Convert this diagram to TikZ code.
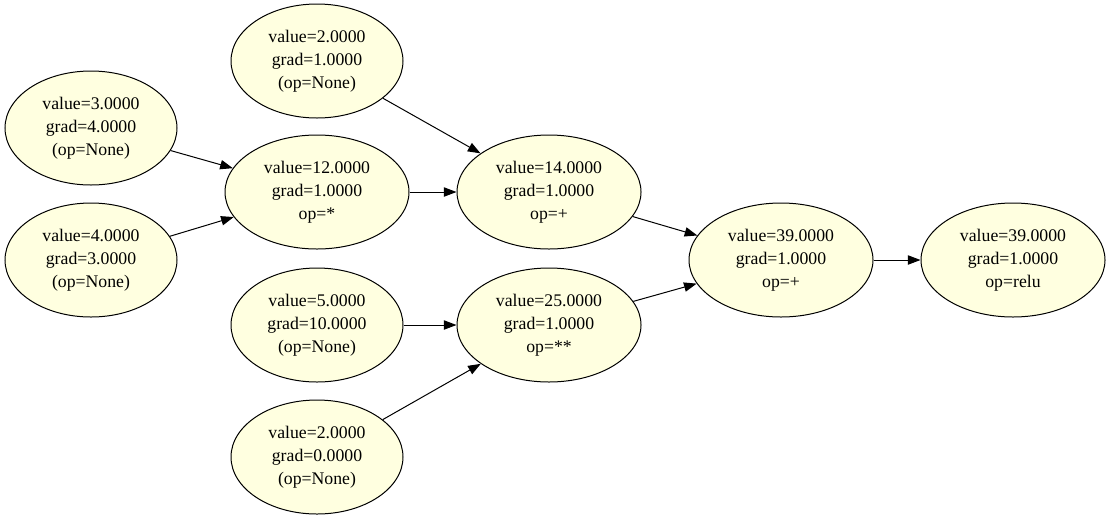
\documentclass[tikz,border=0pt]{standalone}
\usepackage{fontspec}
\setmainfont{Liberation Serif}
\usetikzlibrary{shapes.geometric,arrows.meta}
\definecolor{nodefill}{HTML}{FFFFE0}
\begin{document}
\begin{tikzpicture}[x=0.75pt,y=-0.75pt,
  val/.style={ellipse,draw=black,line width=0.75pt,fill=nodefill,inner sep=0pt,
    minimum height=85.5pt,align=center,
    font=\fontsize{13.3}{17.25}\selectfont},
  narrow/.style={val,minimum width=129pt},
  wide/.style={val,minimum width=138pt},
  edge/.style={line width=0.75pt,-{Triangle[length=9.5pt,width=7pt]}}]
\useasboundingbox (0,0) rectangle (1112,515);
\node[narrow] (a) at (317,61)  {value=2.0000\\grad=1.0000\\(op=None)};
\node[narrow] (b) at (91,128)  {value=3.0000\\grad=4.0000\\(op=None)};
\node[wide]   (c) at (317,192) {value=12.0000\\grad=1.0000\\op=*};
\node[narrow] (d) at (91,260)  {value=4.0000\\grad=3.0000\\(op=None)};
\node[wide]   (e) at (549,192) {value=14.0000\\grad=1.0000\\op=+};
\node[narrow] (f) at (317,325) {value=5.0000\\grad=10.0000\\(op=None)};
\node[wide]   (g) at (549,325) {value=25.0000\\grad=1.0000\\op=**};
\node[narrow] (h) at (317,457) {value=2.0000\\grad=0.0000\\(op=None)};
\node[wide]   (i) at (781,260) {value=39.0000\\grad=1.0000\\op=+};
\node[wide]   (j) at (1013,260) {value=39.0000\\grad=1.0000\\op=relu};
\draw[edge] (b) -- (c);
\draw[edge] (d) -- (c);
\draw[edge] (c) -- (e);
\draw[edge] (a) -- (e);
\draw[edge] (f) -- (g);
\draw[edge] (h) -- (g);
\draw[edge] (e) -- (i);
\draw[edge] (g) -- (i);
\draw[edge] (i) -- (j);
\end{tikzpicture}
\end{document}
